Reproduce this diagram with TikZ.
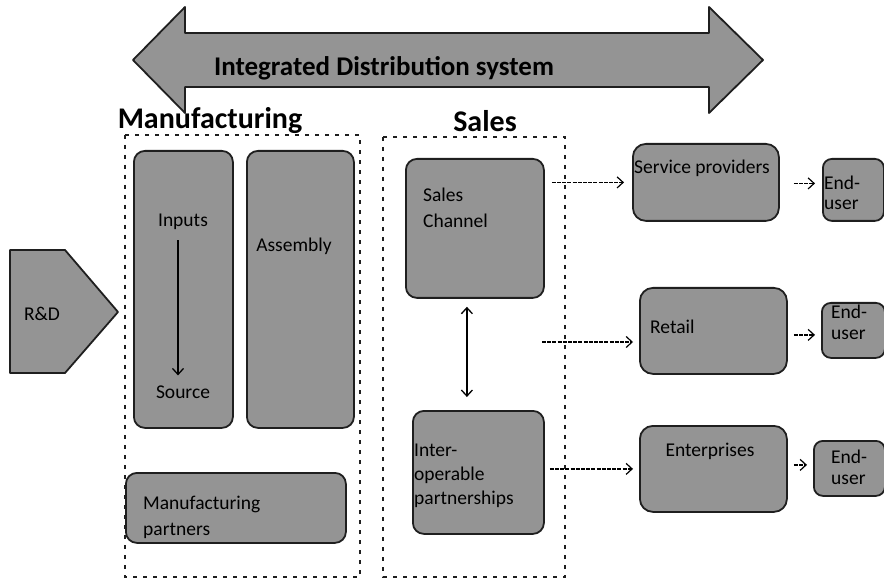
\documentclass[tikz,border=0pt]{standalone}
\usepackage{fontspec}
\setmainfont{Carlito}
\usetikzlibrary{arrows.meta}
\definecolor{boxfill}{gray}{0.58}
\definecolor{boxline}{gray}{0.12}
\tikzset{
  box/.style={draw=boxline, line width=1.8pt, fill=boxfill, rounded corners=11pt, anchor=north west, inner sep=0pt},
  group/.style={draw=boxline, line width=1.4pt, dash pattern=on 4pt off 6pt},
  txt/.style={inner sep=0pt, font=\fontsize{19.5}{26}\selectfont, text=black},
  head/.style={inner sep=0pt, font=\fontsize{30}{30}\selectfont\bfseries, text=black},
  conn/.style={line width=1.2pt, dash pattern=on 4pt off 1.2pt, -{Straight Barb[length=6pt,width=11pt]}},
  solidconn/.style={line width=1.3pt, -{Straight Barb[length=6pt,width=11pt]}},
}
\begin{document}
\begin{tikzpicture}[x=1pt,y=-1pt]
\useasboundingbox (0,0) rectangle (884,580);
% big double arrow
\draw[boxline, line width=1.8pt, fill=boxfill, line join=round]
  (133,60) -- (185,7) -- (185,33) -- (709,33) -- (709,7) -- (763,60)
  -- (709,113) -- (709,87) -- (185,87) -- (185,113) -- cycle;
\node[inner sep=0pt, font=\fontsize{27}{27}\selectfont\bfseries] (ids) at (384,68) {Integrated Distribution system};
% headers
\node[head] (mfgh) at (210,121) {Manufacturing};
\node[head] (salesh) at (485,121) {Sales};
% group boxes
\draw[group] (125,135) rectangle (360,577);
\draw[group] (383,137) rectangle (565,577);
% R&D
\draw[boxline, line width=1.8pt, fill=boxfill, line join=round]
  (10,250) -- (65,250) -- (118,312) -- (65,373) -- (10,373) -- cycle;
\node[txt] (rd) at (42,314) {R\&D};
% manufacturing
\node[box, minimum width=99pt, minimum height=277pt] (inbox) at (133,150) {};
\node[box, minimum width=107pt, minimum height=277pt] (asbox) at (246,150) {};
\node[box, minimum width=220pt, minimum height=70pt] (mpbox) at (125,472) {};
\node[txt] (inp) at (183,222) {Inputs};
\node[txt] (src) at (183,392) {Source};
\node[txt] (asm) at (294,246) {Assembly};
\node[txt, align=left, anchor=west] (mp) at (143,517) {Manufacturing\\partners};
\draw[solidconn] ([xshift=-5pt,yshift=-10pt]inp.south) -- ([xshift=-5pt,yshift=10pt]src.north);
% sales
\node[box, minimum width=138pt, minimum height=139pt] (sc) at (405,158) {};
\node[box, minimum width=131pt, minimum height=123pt] (io) at (412,410) {};
\node[txt, align=left, anchor=west] (sct) at (423,208) {Sales\\Channel};
\node[txt, align=left, anchor=west, font=\fontsize{19.5}{24}\selectfont] (iot) at (414,476) {Inter-\\operable\\partnerships};
% right column
\node[box, minimum width=146pt, minimum height=77pt, rounded corners=13pt] (sp) at (632,143) {};
\node[box, minimum width=147pt, minimum height=86pt, rounded corners=13pt] (rt) at (639,287) {};
\node[box, minimum width=147pt, minimum height=86pt, rounded corners=13pt] (en) at (639,425) {};
\node[box, minimum width=61pt, minimum height=62pt, rounded corners=9pt] (eu1) at (822,158) {};
\node[box, minimum width=63pt, minimum height=55pt, rounded corners=9pt] (eu2) at (821,302) {};
\node[box, minimum width=71pt, minimum height=55pt, rounded corners=9pt] (eu3) at (813,440) {};
\node[txt, anchor=west] (spt) at (634,168) {Service providers};
\node[txt, anchor=west] (rtt) at (650,327) {Retail};
\node[txt] (ent) at (710,451) {Enterprises};
\node[txt, align=left, anchor=west, font=\fontsize{19.5}{20}\selectfont] (eu1t) at (824,193) {End-\\user};
\node[txt, align=left, anchor=west, font=\fontsize{19.5}{21}\selectfont] (eu2t) at (831,322) {End-\\user};
\node[txt, align=left, anchor=west, font=\fontsize{19.5}{21}\selectfont] (eu3t) at (831,467) {End-\\user};
% connectors
\coordinate (mid) at (542,342);
\draw[conn] ([xshift=7pt]sc.east |- sp.west) -- ([xshift=-8pt]sp.west);
\draw[conn] (mid) -- ([xshift=-6pt]mid -| rt.west);
\draw[conn] ([xshift=5pt]io.east |- en.west) -- ([xshift=-6pt]en.west);
\draw[conn] ([xshift=14pt,yshift=-1pt]sp.east) -- ([xshift=-7pt,yshift=-1pt]sp.east -| eu1.west);
\draw[conn] ([xshift=6pt,yshift=-4pt]rt.east) -- ([xshift=-6pt,yshift=-4pt]rt.east -| eu2.west);
\draw[conn] ([xshift=6pt,yshift=4pt]en.east) -- ([xshift=-6pt,yshift=4pt]en.east -| eu3.west);
\draw[line width=1.3pt, {Straight Barb[length=6pt,width=11pt]}-{Straight Barb[length=6pt,width=11pt]}]
  ([xshift=-8pt,yshift=-8pt]sc.south) -- ([xshift=-8pt,yshift=13pt]sc.south |- io.north);
\end{tikzpicture}
\end{document}
